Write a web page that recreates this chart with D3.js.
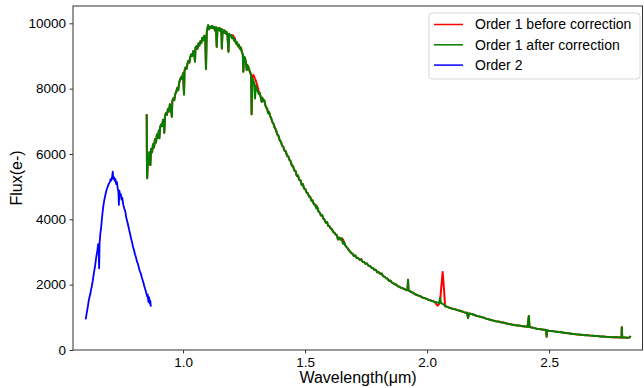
<!DOCTYPE html>
<html>
<head>
<meta charset="utf-8">
<script src="https://cdn.jsdelivr.net/npm/d3@7"></script>
<style>
  body { margin: 0; background: #fff; }
  svg { display: block; font-family: "Liberation Sans", Arial, sans-serif; }
</style>
</head>
<body>
<figure id="spectrum" style="margin:0"></figure>
<script>
// wavelength (um), flux (e-)
const order2 = [
  [0.601, 940], [0.605, 1120], [0.609, 1290], [0.612, 1440], [0.616, 1600], [0.620, 1720],
  [0.623, 1850], [0.626, 1940], [0.630, 2120], [0.634, 2330], [0.637, 2460], [0.640, 2600],
  [0.643, 2780], [0.646, 2920], [0.649, 3050], [0.652, 3240], [0.654, 3150], [0.656, 2500],
  [0.658, 3280], [0.661, 3560], [0.664, 3720], [0.667, 3980], [0.670, 4200], [0.673, 4390],
  [0.677, 4580], [0.681, 4720], [0.685, 4860], [0.689, 4950], [0.693, 5040], [0.697, 5100],
  [0.700, 5140], [0.703, 5230], [0.706, 5190], [0.709, 5280], [0.712, 5460], [0.714, 5250],
  [0.717, 5290], [0.720, 5180], [0.723, 5230], [0.726, 5080], [0.729, 5140], [0.732, 4960],
  [0.735, 4850], [0.737, 4440], [0.739, 4880], [0.742, 4720], [0.745, 4770], [0.748, 4600],
  [0.751, 4660], [0.755, 4450], [0.759, 4330], [0.763, 4250], [0.767, 4060], [0.771, 3950],
  [0.775, 3820], [0.779, 3680], [0.783, 3560], [0.787, 3410], [0.791, 3300], [0.795, 3160],
  [0.799, 3060], [0.803, 2930], [0.807, 2840], [0.811, 2710], [0.815, 2640], [0.819, 2520],
  [0.823, 2410], [0.827, 2340], [0.831, 2220], [0.835, 2130], [0.838, 2050], [0.841, 1960],
  [0.844, 1880], [0.847, 1810], [0.850, 1720], [0.853, 1640], [0.855, 1700], [0.858, 1470],
  [0.861, 1610], [0.864, 1410], [0.866, 1500], [0.868, 1330]
];

const order1After = [
  [0.851, 7220], [0.852, 5800], [0.853, 5260], [0.856, 5900], [0.859, 5700], [0.862, 6050],
  [0.866, 5660], [0.869, 6150], [0.873, 6050], [0.877, 6300], [0.881, 6200], [0.885, 6450],
  [0.889, 6350], [0.893, 6600], [0.897, 6500], [0.901, 6720], [0.903, 6480], [0.906, 6820],
  [0.910, 6900], [0.914, 6850], [0.918, 7050], [0.921, 6950], [0.923, 6650], [0.926, 7150],
  [0.930, 7250], [0.934, 7200], [0.938, 7380], [0.942, 7300], [0.946, 7520], [0.950, 7450],
  [0.954, 7140], [0.956, 7620], [0.960, 7700], [0.964, 7650], [0.968, 7830], [0.972, 7900],
  [0.976, 8020], [0.980, 7950], [0.984, 8180], [0.988, 8280], [0.992, 8350], [0.996, 8300],
  [1.000, 8470], [1.004, 7820], [1.006, 8550], [1.010, 8650], [1.014, 8600], [1.018, 8760],
  [1.022, 8850], [1.026, 8800], [1.030, 8980], [1.034, 9050], [1.038, 9000], [1.042, 9150],
  [1.046, 9080], [1.049, 8830], [1.051, 9250], [1.055, 9300], [1.059, 9220], [1.063, 9380],
  [1.067, 9320], [1.071, 9450], [1.075, 9400], [1.079, 9560], [1.083, 9480], [1.087, 9620],
  [1.091, 9550], [1.094, 8600], [1.097, 9700], [1.100, 9850], [1.103, 9940], [1.107, 9820],
  [1.111, 9900], [1.115, 9860], [1.119, 9920], [1.123, 9850], [1.127, 9890], [1.131, 9780],
  [1.135, 9880], [1.138, 9280], [1.141, 9850], [1.145, 9800], [1.149, 9860], [1.153, 9760],
  [1.157, 9820], [1.159, 9230], [1.162, 9800], [1.166, 9720], [1.170, 9780], [1.174, 9690],
  [1.178, 9740], [1.182, 9640], [1.186, 9130], [1.189, 9680], [1.193, 9600], [1.197, 9640],
  [1.201, 9540], [1.205, 9580], [1.209, 9470], [1.213, 9500], [1.217, 9380], [1.221, 9420],
  [1.225, 9300], [1.229, 9340], [1.233, 9220], [1.237, 9260], [1.241, 9120], [1.245, 9050],
  [1.247, 8520], [1.250, 8980], [1.254, 8930], [1.258, 8800], [1.261, 8570], [1.264, 8720],
  [1.268, 8650], [1.272, 8560], [1.276, 8480], [1.279, 8400], [1.281, 7220], [1.284, 8300],
  [1.288, 8250], [1.292, 8150], [1.295, 7700], [1.298, 8100], [1.302, 7980], [1.306, 7920],
  [1.310, 7840], [1.314, 7870], [1.318, 7760], [1.322, 7600], [1.325, 7720], [1.329, 7620],
  [1.333, 7640], [1.337, 7500], [1.341, 7420], [1.345, 7380], [1.349, 7250], [1.353, 7280],
  [1.357, 7160], [1.361, 7100], [1.366, 6980], [1.371, 6920], [1.376, 6800], [1.381, 6740],
  [1.386, 6600], [1.391, 6560], [1.396, 6420], [1.401, 6380], [1.406, 6250], [1.411, 6220],
  [1.416, 6100], [1.421, 6080], [1.426, 5950], [1.431, 5930], [1.436, 5820], [1.441, 5780],
  [1.446, 5640], [1.451, 5620], [1.456, 5500], [1.461, 5480], [1.466, 5330], [1.471, 5340],
  [1.476, 5210], [1.481, 5200], [1.486, 5060], [1.491, 5080], [1.496, 4940], [1.501, 4930],
  [1.506, 4820], [1.511, 4800], [1.516, 4700], [1.521, 4690], [1.526, 4570], [1.531, 4580],
  [1.536, 4460], [1.541, 4450], [1.546, 4330], [1.550, 4380], [1.555, 4240], [1.560, 4210],
  [1.565, 4120], [1.570, 4130], [1.575, 4020], [1.580, 3990], [1.585, 3900], [1.590, 3920],
  [1.595, 3800], [1.600, 3790], [1.605, 3720], [1.610, 3700], [1.615, 3620], [1.620, 3590],
  [1.625, 3540], [1.630, 3520], [1.635, 3380], [1.640, 3440], [1.645, 3380], [1.650, 3420],
  [1.655, 3250], [1.660, 3300], [1.665, 3200], [1.670, 3150], [1.675, 3110], [1.680, 3050],
  [1.685, 3010], [1.690, 2960], [1.695, 2950], [1.700, 2880], [1.706, 2890], [1.712, 2820],
  [1.718, 2810], [1.724, 2760], [1.730, 2780], [1.736, 2700], [1.742, 2690], [1.748, 2640],
  [1.754, 2650], [1.760, 2580], [1.766, 2570], [1.772, 2520], [1.778, 2510], [1.784, 2450],
  [1.790, 2460], [1.796, 2380], [1.802, 2380], [1.808, 2330], [1.814, 2340], [1.820, 2260],
  [1.826, 2240], [1.832, 2200], [1.838, 2180], [1.844, 2110], [1.850, 2130], [1.856, 2060],
  [1.862, 2040], [1.868, 2010], [1.874, 2000], [1.880, 1950], [1.886, 1940], [1.892, 1910],
  [1.898, 1900], [1.904, 1870], [1.910, 1860], [1.916, 1830], [1.920, 1840], [1.922, 2150],
  [1.924, 1820], [1.930, 1800], [1.936, 1770], [1.942, 1760], [1.948, 1720], [1.954, 1700],
  [1.960, 1680], [1.966, 1660], [1.972, 1650], [1.978, 1620], [1.984, 1600], [1.990, 1590],
  [1.996, 1570], [2.002, 1550], [2.008, 1530], [2.014, 1520], [2.020, 1500], [2.026, 1490],
  [2.032, 1470], [2.038, 1460], [2.044, 1450], [2.050, 1440], [2.053, 1590], [2.057, 1440],
  [2.062, 1420], [2.066, 1400], [2.070, 1380], [2.074, 1340], [2.080, 1330], [2.086, 1310],
  [2.092, 1290], [2.098, 1280], [2.104, 1260], [2.114, 1250], [2.124, 1220], [2.134, 1200],
  [2.144, 1180], [2.154, 1150], [2.164, 1140], [2.168, 980], [2.172, 1120], [2.182, 1100],
  [2.192, 1080], [2.202, 1050], [2.212, 1030], [2.222, 1010], [2.232, 990], [2.242, 960],
  [2.252, 940], [2.262, 920], [2.272, 900], [2.282, 880], [2.292, 870], [2.302, 850],
  [2.312, 840], [2.322, 820], [2.332, 800], [2.342, 790], [2.352, 770], [2.362, 760],
  [2.372, 750], [2.382, 740], [2.392, 730], [2.402, 720], [2.412, 710], [2.417, 1040],
  [2.420, 700], [2.430, 690], [2.440, 670], [2.450, 650], [2.460, 640], [2.470, 630],
  [2.480, 620], [2.488, 610], [2.490, 410], [2.492, 600], [2.500, 590], [2.510, 580],
  [2.520, 570], [2.530, 560], [2.540, 550], [2.550, 540], [2.560, 530], [2.570, 520],
  [2.580, 510], [2.590, 500], [2.600, 490], [2.610, 480], [2.620, 475], [2.630, 470],
  [2.640, 460], [2.650, 455], [2.660, 450], [2.670, 440], [2.680, 435], [2.690, 430],
  [2.700, 425], [2.710, 415], [2.720, 410], [2.730, 405], [2.740, 400], [2.750, 395],
  [2.760, 392], [2.770, 390], [2.780, 388], [2.790, 385], [2.797, 383], [2.798, 700],
  [2.800, 383], [2.810, 380], [2.820, 378], [2.830, 380], [2.834, 430]
];

// stretches where order 1 before correction differs from after correction
const order1BeforePatches = [
  [[1.201, 9640], [1.205, 9630], [1.209, 9570], [1.213, 9540]],
  [[1.284, 8380], [1.288, 8420], [1.292, 8360], [1.295, 8300], [1.298, 8250], [1.302, 8150], [1.306, 8050], [1.310, 7920]],
  [[1.546, 4420]],
  [[1.655, 3390]],
  [[2.038, 1400], [2.042, 1360], [2.046, 1380], [2.050, 1420], [2.053, 1450], [2.058, 1900],
   [2.064, 2390], [2.069, 1900], [2.074, 1340]]
];

const xTicks = [1.0, 1.5, 2.0, 2.5];
const yTicks = [0, 2000, 4000, 6000, 8000, 10000];
const seriesNames = ["Order 1 before correction", "Order 1 after correction", "Order 2"];
const seriesColors = ["#ff0000", "#008000", "#0000ff"];

const width = 644, height = 388;
const margin = { top: 6, right: 1, bottom: 38, left: 73 };

const order1Before = order1After
  .filter(p => !order1BeforePatches.some(pt => p[0] >= pt[0][0] && p[0] <= pt[pt.length - 1][0]))
  .concat(...order1BeforePatches)
  .sort((a, b) => a[0] - b[0]);

const svg = d3.select("figure#spectrum")
  .append("svg")
  .attr("width", width)
  .attr("height", height);

const x = d3.scaleLinear()
  .domain([0.549, 2.885])
  .range([margin.left, width - margin.right]);

const y = d3.scaleLinear()
  .domain([0, 10530])
  .range([height - margin.bottom, margin.top]);

const line = d3.line()
  .x(d => x(d[0]))
  .y(d => y(d[1]));

// Add lines
const plot = svg.append("g");
[order1Before, order1After, order2].forEach((data, i) => {
  plot.append("path")
    .datum(data)
    .attr("d", line)
    .attr("fill", "none")
    .attr("stroke", seriesColors[i])
    .attr("stroke-width", i == 2 ? 1.8 : 2)
    .attr("stroke-linejoin", "round");
});

// Add X axis
const xAxis = svg.append("g")
  .attr("transform", "translate(0," + (height - margin.bottom) + ")")
  .call(d3.axisBottom(x).tickValues(xTicks).tickFormat(d3.format(".1f")).tickSize(3.5).tickPadding(3.5).tickSizeOuter(0));

// Add Y axis
const yAxis = svg.append("g")
  .attr("transform", "translate(" + margin.left + ",0)")
  .call(d3.axisLeft(y).tickValues(yTicks).tickFormat(d3.format("d")).tickSize(3.5).tickPadding(3.5).tickSizeOuter(0));

[xAxis, yAxis].forEach(ax => {
  ax.selectAll("text").style("font-size", "13.5px").style("fill", "#000")
    .style("font-family", "'Liberation Sans', Arial, sans-serif");
  ax.selectAll("line").attr("stroke", "#333");
  ax.select(".domain").remove();
});

// frame
svg.append("rect")
  .attr("x", margin.left)
  .attr("y", margin.top)
  .attr("width", width - margin.left - margin.right - 0.5)
  .attr("height", height - margin.top - margin.bottom)
  .attr("fill", "none")
  .attr("stroke", "#333")
  .attr("stroke-width", 1);

// axis labels
svg.append("text")
  .attr("x", (margin.left + width - margin.right) / 2)
  .attr("y", 383)
  .attr("text-anchor", "middle")
  .style("font-size", "16px")
  .text("Wavelength(μm)");

svg.append("text")
  .attr("transform", "translate(22," + ((margin.top + height - margin.bottom) / 2) + ") rotate(-90)")
  .attr("text-anchor", "middle")
  .style("font-size", "16px")
  .text("Flux(e-)");

// legend
const legend = svg.append("g").attr("transform", "translate(429,13)");
legend.append("rect")
  .attr("width", 211)
  .attr("height", 66)
  .attr("rx", 3)
  .attr("fill", "#fff")
  .attr("fill-opacity", 0.8)
  .attr("stroke", "#d6d6d6");

seriesNames.forEach((name, i) => {
  const row = legend.append("g").attr("transform", "translate(0," + (11.5 + i * 20.3) + ")");
  row.append("line")
    .attr("x1", 5).attr("x2", 34)
    .attr("stroke", seriesColors[i])
    .attr("stroke-width", 1.5);
  row.append("text")
    .attr("x", 46)
    .attr("dy", "0.35em")
    .style("font-size", "14px")
    .text(name);
});
</script>
</body>
</html>
